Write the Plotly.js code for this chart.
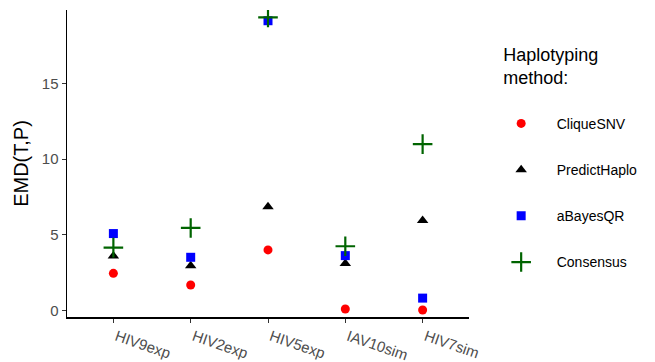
<!DOCTYPE html>
<html><head><meta charset="utf-8">
<script src="https://cdn.plot.ly/plotly-3.0.1.min.js"></script>
<style>html,body{margin:0;padding:0;background:#fff}#chart{width:655px;height:362px}</style>
</head><body><div id="chart"></div>
<script>
const categories = ["HIV9exp","HIV2exp","HIV5exp","IAV10sim","HIV7sim"];
const cliqueSNV = [2.45, 1.68, 4.0, 0.09, 0.02];
const predictHaplo = [3.6, 2.95, 6.85, 3.1, 5.95];
const aBayesQR = [5.08, 3.51, 19.16, 3.62, 0.81];
const consensus = [4.15, 5.45, 19.38, 4.24, 11.0];
const methodNames = ["CliqueSNV","PredictHaplo","aBayesQR","Consensus"];

const series = [cliqueSNV, predictHaplo, aBayesQR, consensus];
const styles = [
  {symbol:"circle", size:9, color:"#FF0000"},
  {symbol:"triangle-up", size:10, color:"#000000"},
  {symbol:"square", size:9, color:"#0000FF"},
  {symbol:"cross-thin", size:14, color:"#006400", line:{width:2.2, color:"#006400"}}
];
const pad = "\u00a0\u00a0\u00a0\u00a0";
const traces = series.map((vals,i)=>({
  type:"scatter", mode:"markers", x:categories, y:vals, name:pad+methodNames[i],
  legendgroup:"g"+i,
  marker:Object.assign({symbol:styles[i].symbol, size:styles[i].size, color:styles[i].color},
    styles[i].line ? {line:styles[i].line} : {line:{width:0}}),
  hoverinfo:"x+y+name"
}));

const layout = {
  width:655, height:362,
  margin:{l:67, r:186, t:10, b:45},
  paper_bgcolor:"#fff", plot_bgcolor:"#fff",
  font:{family:"Liberation Sans, Arial, sans-serif", color:"#000"},
  showlegend:true,
  xaxis:{
    type:"category", range:[-0.6,4.6], showgrid:false, zeroline:false,
    showline:true, linecolor:"#000", linewidth:1.5,
    ticks:"outside", ticklen:4, tickcolor:"#333", tickwidth:1,
    tickangle:19, tickfont:{size:15, color:"#4d4d4d"},
    ticklabelshift:3
  },
  yaxis:{
    range:[-0.44,19.87], showgrid:false, zeroline:false,
    showline:true, linecolor:"#000", linewidth:1.5,
    ticks:"outside", ticklen:4, tickcolor:"#333", tickwidth:1,
    tickvals:[0,5,10,15], ticktext:["0","5","10","15"],
    tickfont:{size:15, color:"#4d4d4d"},
    title:{text:"EMD(T,P)", font:{size:20, color:"#000"}, standoff:8}
  },
  legend:{
    x:1.08, xanchor:"left", y:0.91, yanchor:"top",
    title:{text:"Haplotyping<br>method:<br> ", font:{size:18, color:"#000"}},
    font:{size:14, color:"#000"},
    tracegroupgap:25, bgcolor:"rgba(0,0,0,0)"
  }
};
Plotly.newPlot("chart", traces, layout, {displayModeBar:false, staticPlot:true});
</script></body></html>
